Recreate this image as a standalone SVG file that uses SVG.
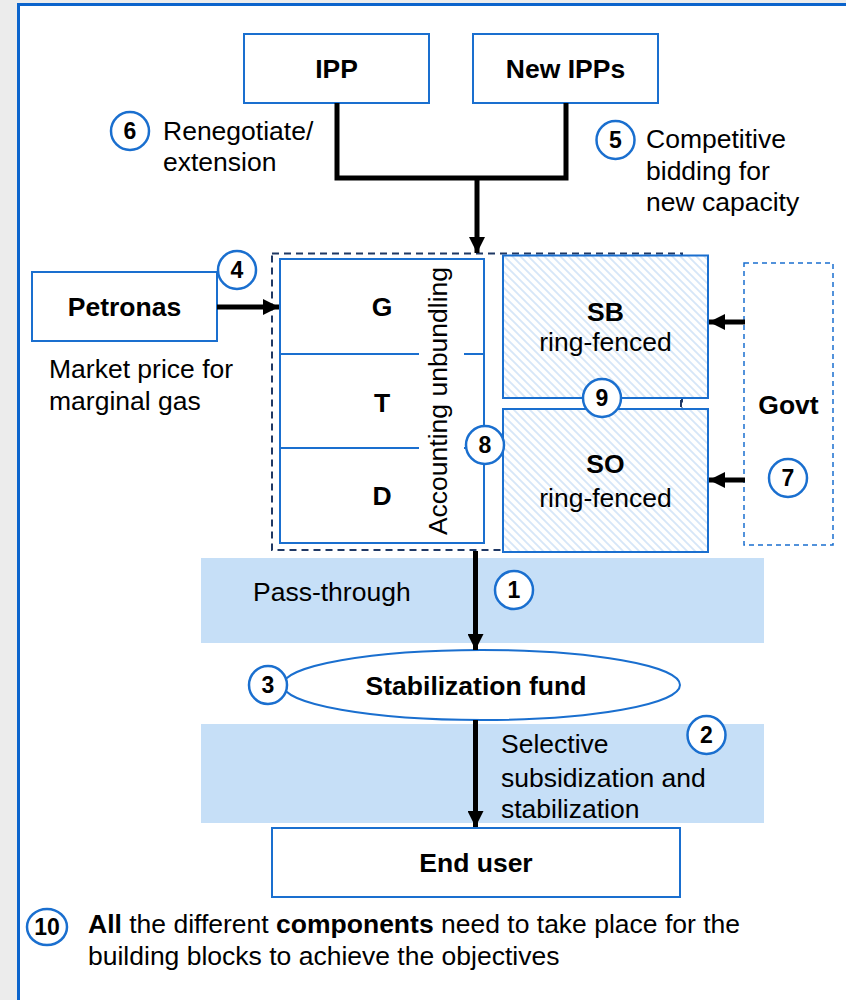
<svg xmlns="http://www.w3.org/2000/svg" width="846" height="1000" viewBox="0 0 846 1000">
  <style>
    .t { font-family: "Liberation Sans", Arial, sans-serif; font-size: 26.5px; fill: #000; }
    .b { font-weight: bold; }
    .box { fill: #fff; stroke: #1a6fcf; stroke-width: 2; }
    .ring { fill: #fff; stroke: #1a6fcf; stroke-width: 2.5; }
    .num { font-family: "Liberation Sans", Arial, sans-serif; font-size: 23px; font-weight: bold; fill: #000; text-anchor: middle; }
    .band { fill: #c6dff7; }
    .wire { fill: none; stroke: #000; stroke-width: 5; }
    .mid { text-anchor: middle; }
  </style>
  <defs>
    <marker id="arrow" viewBox="0 0 16 16" refX="16" refY="8" markerWidth="16" markerHeight="16" markerUnits="userSpaceOnUse" orient="auto">
      <path d="M0,0 L16,8 L0,16 z" fill="#000"/>
    </marker>
    <pattern id="hatch" patternUnits="userSpaceOnUse" width="8" height="8">
      <rect width="8" height="8" fill="#fff"/>
      <path d="M-2,-2 L10,10 M-2,6 L2,10 M6,-2 L10,2" stroke="#d6e6f8" stroke-width="1.8"/>
    </pattern>
  </defs>

  <!-- page -->
  <rect width="846" height="1000" fill="#ececec"/>
  <rect x="18.5" y="4.5" width="900" height="1100" fill="#fff" stroke="#0b64cc" stroke-width="3"/>

  <!-- shaded bands -->
  <rect class="band" x="201" y="558" width="563" height="85"/>
  <rect class="band" x="201" y="724" width="563" height="99"/>

  <!-- utility boundary -->
  <rect x="272" y="253.5" width="410" height="296.5" fill="none" stroke="#1f3864" stroke-width="2" stroke-dasharray="7,5"/>

  <g id="ipp">
    <rect class="box" x="244" y="34" width="185" height="69"/>
    <text class="t b mid" x="336.5" y="78">IPP</text>
  </g>
  <g id="new-ipps">
    <rect class="box" x="473" y="34" width="185" height="69"/>
    <text class="t b mid" x="565.5" y="78">New IPPs</text>
  </g>

  <g id="petronas">
    <rect class="box" x="32" y="272" width="185" height="69"/>
    <text class="t b mid" x="124.5" y="316">Petronas</text>
  </g>

  <g id="gtd">
    <rect class="box" x="280" y="259" width="204" height="284"/>
    <line x1="280" y1="354" x2="419" y2="354" stroke="#1a6fcf" stroke-width="2"/>
    <line x1="464" y1="354" x2="484" y2="354" stroke="#1a6fcf" stroke-width="2"/>
    <line x1="280" y1="448" x2="419" y2="448" stroke="#1a6fcf" stroke-width="2"/>
    <line x1="464" y1="448" x2="484" y2="448" stroke="#1a6fcf" stroke-width="2"/>
    <text class="t b mid" x="382" y="316">G</text>
    <text class="t b mid" x="382" y="412">T</text>
    <text class="t b mid" x="382" y="505">D</text>
    <text class="t mid" transform="translate(447,401) rotate(-90)">Accounting unbundling</text>
  </g>

  <g id="sb">
    <rect x="503" y="255.5" width="205" height="142.5" fill="url(#hatch)" stroke="#1a6fcf" stroke-width="2"/>
    <text class="t b mid" x="605.5" y="321">SB</text>
    <text class="t mid" x="605.5" y="351">ring-fenced</text>
  </g>
  <g id="so">
    <rect x="503" y="409" width="205" height="143" fill="url(#hatch)" stroke="#1a6fcf" stroke-width="2"/>
    <text class="t b mid" x="605.5" y="473">SO</text>
    <text class="t mid" x="605.5" y="507">ring-fenced</text>
  </g>

  <g id="govt">
    <rect x="744" y="263" width="89" height="282" fill="#fff" stroke="#1a6fcf" stroke-width="1.5" stroke-dasharray="5,4"/>
    <text class="t b mid" x="788.5" y="414">Govt</text>
  </g>

  <g id="stabilization-fund">
    <ellipse cx="481.5" cy="685" rx="198.5" ry="35" fill="#fff" stroke="#1a6fcf" stroke-width="2"/>
    <text class="t b mid" x="476" y="695">Stabilization fund</text>
  </g>

  <g id="end-user">
    <rect class="box" x="272" y="828" width="408" height="69"/>
    <text class="t b mid" x="476" y="872">End user</text>
  </g>

  <g id="connectors">
    <path class="wire" d="M337,103 V178 H566 V103"/>
    <path class="wire" d="M477,178 V253" marker-end="url(#arrow)"/>
    <path class="wire" d="M217,307 H279" marker-end="url(#arrow)"/>
    <path class="wire" d="M745,322 H709" marker-end="url(#arrow)"/>
    <path class="wire" d="M745,480 H709" marker-end="url(#arrow)"/>
    <path class="wire" stroke-width="4.5" d="M475.5,551 V650" marker-end="url(#arrow)"/>
    <path class="wire" stroke-width="4.5" d="M475.5,720 V827" marker-end="url(#arrow)"/>
  </g>

  <!-- annotations -->
  <g id="note-6">
    <circle class="ring" cx="130" cy="131" r="19"/>
    <text class="num" x="130" y="139">6</text>
    <text class="t" x="163" y="140">Renegotiate/</text>
    <text class="t" x="163" y="171">extension</text>
  </g>
  <g id="note-5">
    <circle class="ring" cx="615.5" cy="140" r="19"/>
    <text class="num" x="615.5" y="148">5</text>
    <text class="t" x="646" y="148">Competitive</text>
    <text class="t" x="646" y="180">bidding for</text>
    <text class="t" x="646" y="211">new capacity</text>
  </g>
  <g id="note-4">
    <circle class="ring" cx="237" cy="270" r="19"/>
    <text class="num" x="237" y="278">4</text>
    <text class="t" x="49" y="378">Market price for</text>
    <text class="t" x="49" y="410">marginal gas</text>
  </g>
  <g id="note-9">
    <circle class="ring" cx="602" cy="398" r="19"/>
    <text class="num" x="602" y="406">9</text>
  </g>
  <line x1="681" y1="400" x2="681" y2="407" stroke="#1f3864" stroke-width="2"/>
  <g id="note-8">
    <circle class="ring" cx="485" cy="445" r="19"/>
    <text class="num" x="485" y="453">8</text>
  </g>
  <g id="note-7">
    <circle class="ring" cx="788" cy="478" r="19"/>
    <text class="num" x="788" y="486">7</text>
  </g>
  <g id="note-1">
    <circle class="ring" cx="514" cy="590" r="19"/>
    <text class="num" x="514" y="598">1</text>
    <text class="t" x="253" y="601">Pass-through</text>
  </g>
  <g id="note-3">
    <circle class="ring" cx="268" cy="685" r="19"/>
    <text class="num" x="268" y="693">3</text>
  </g>
  <g id="note-2">
    <circle class="ring" cx="706.5" cy="735" r="19"/>
    <text class="num" x="706.5" y="743">2</text>
    <text class="t" x="501" y="753">Selective</text>
    <text class="t" x="501" y="787">subsidization and</text>
    <text class="t" x="501" y="818">stabilization</text>
  </g>
  <g id="note-10">
    <ellipse class="ring" cx="47" cy="927" rx="20" ry="18"/>
    <text class="num" x="47" y="935">10</text>
    <text class="t" x="88" y="933"><tspan class="b">All</tspan> the different <tspan class="b">components</tspan> need to take place for the</text>
    <text class="t" x="88" y="965">building blocks to achieve the objectives</text>
  </g>
</svg>
